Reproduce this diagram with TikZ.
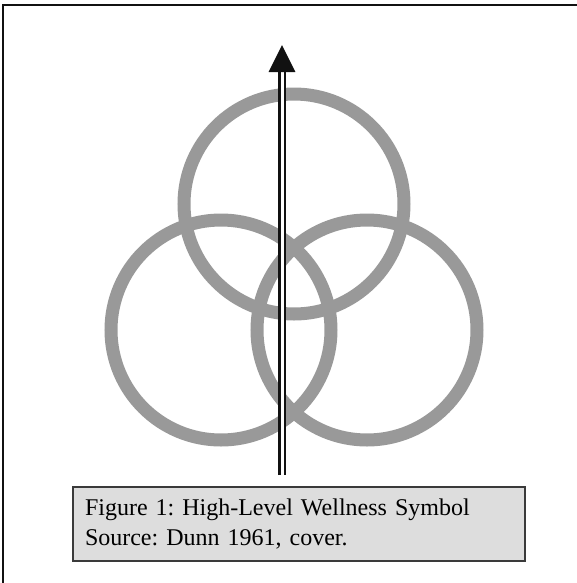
\documentclass[tikz,border=0pt]{standalone}
\usepackage{fontspec}
\setmainfont{Liberation Serif}
\usetikzlibrary{positioning}
\definecolor{ringgray}{HTML}{999999}
\definecolor{capfill}{HTML}{DDDDDD}
\definecolor{capedge}{HTML}{3A3A3A}
\definecolor{ink}{HTML}{111111}
\tikzset{
  ring/.style={circle, draw=ringgray, line width=9.75pt, minimum size=165pt, inner sep=0pt},
  shaft/.style={draw=ink, line width=1.9pt, double=white, double distance=2.25pt},
  head/.style={fill=ink},
  caption/.style={draw=capedge, line width=1.5pt, fill=capfill, minimum width=339pt,
                  minimum height=55.5pt, text width=321pt, inner xsep=9pt, align=left,
                  font=\fontsize{18}{22.5}\selectfont\frenchspacing},
  frame/.style={draw=ink, line width=1.5pt},
}
\begin{document}
\begin{tikzpicture}[x=0.75pt, y=-0.75pt]
  \useasboundingbox (0,0) rectangle (577,583);
  % outer frame, only top and left edge inside the page
  \draw[frame] (3,600) |- (600,5);
  % the three rings
  \node[ring] (top) at (294,204) {};
  \node[ring] (left) at (221,330) {};
  \node[ring] (right) at (367,330) {};
  % arrow through the rings
  \coordinate (base) at (282,475);
  \coordinate (neck) at (282,72);
  \coordinate (tip) at (282,45);
  \draw[shaft] (base) -- (neck);
  \fill[head] ([xshift=-10.1pt]neck) -- (tip) -- ([xshift=10.1pt]neck) -- cycle;
  % caption
  \node[caption] (cap) at (299,524) {Figure 1: High-Level Wellness Symbol\\Source: Dunn 1961, cover.};
\end{tikzpicture}
\end{document}
